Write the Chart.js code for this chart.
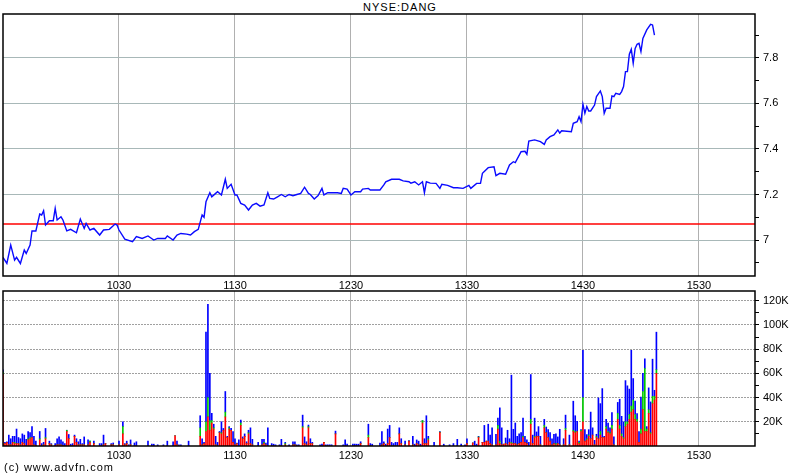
<!DOCTYPE html>
<html><head><meta charset="utf-8">
<script src="https://cdn.jsdelivr.net/npm/chart.js@4.4.1/dist/chart.umd.min.js"></script>
<style>
body{margin:0;background:#fff;width:800px;height:475px;overflow:hidden;position:relative;font-family:"Liberation Sans",Arial,sans-serif;color:#000;}
#title{position:absolute;top:1px;left:0;width:800px;text-align:center;font-size:11px;letter-spacing:1px;}
#copy{position:absolute;left:4px;top:461px;font-size:11px;letter-spacing:1px;}
#c1{position:absolute;left:0;top:0;}
#c2{position:absolute;left:0;top:286px;}
</style></head>
<body>
<div id="title">NYSE:DANG</div>
<canvas id="c1" width="800" height="292"></canvas>
<canvas id="c2" width="800" height="189"></canvas>
<div id="copy">(c) www.advfn.com</div>
<script>
// ---- data ----
const timeTickLabels = ["1030","1130","1230","1330","1430","1530"];
const priceTicks = [6.9,7.0,7.1,7.2,7.3,7.4,7.5,7.6,7.7,7.8,7.9];
const volTicks = [10,20,30,40,50,60,70,80,90,100,110,120]; // thousands
const prevClose = 7.07;
// minutes after 09:30
const priceMinutes = [0,2,4,6,7,9,11,12,14,15,17,19,20,21,22,24,26,27,28,30,31,33,35,38,40,42,43,45,47,50,52,55,58,59,60,63,67,69,72,75,78,80,84,85,88,90,92,95,97,99,101,103,104,105,107,108,110,111,113,115,116,118,120,121,123,125,127,129,131,133,135,137,138,140,142,144,146,148,150,152,154,156,158,159,161,163,165,166,168,173,175,176,178,180,182,185,186,189,190,192,195,197,198,201,205,207,210,211,213,215,217,218,219,221,224,226,227,230,233,235,238,241,242,245,247,248,251,254,255,257,260,262,264,265,268,270,271,272,275,278,280,281,283,285,287,288,289,294,295,297,298,299,300,301,302,303,304,306,307,309,310,311,312,314,315,316,317,319,320,321,322,323,324,325,326,327,328,329,330,331,333,335,336,337];
const prices = [6.924,6.897,6.978,6.912,6.924,6.897,6.956,6.941,6.978,7.04,7.04,7.114,7.11,7.129,7.066,7.085,7.085,7.139,7.088,7.102,7.088,7.04,7.047,7.032,7.092,7.051,7.073,7.044,7.051,7.022,7.044,7.047,7.07,7.066,7.044,7.004,6.993,7.015,7.007,7.018,7.0,7.007,7.007,7.018,7.0,7.022,7.029,7.026,7.022,7.037,7.047,7.11,7.10,7.168,7.208,7.19,7.205,7.212,7.198,7.267,7.227,7.245,7.198,7.198,7.161,7.154,7.132,7.154,7.161,7.149,7.154,7.208,7.183,7.18,7.19,7.2,7.19,7.2,7.195,7.2,7.205,7.232,7.205,7.2,7.18,7.195,7.227,7.198,7.208,7.208,7.205,7.227,7.224,7.198,7.212,7.212,7.224,7.227,7.22,7.22,7.22,7.242,7.256,7.267,7.267,7.26,7.256,7.25,7.256,7.242,7.256,7.208,7.256,7.25,7.249,7.227,7.245,7.24,7.23,7.23,7.227,7.24,7.227,7.249,7.249,7.293,7.318,7.322,7.283,7.293,7.289,7.33,7.344,7.34,7.388,7.39,7.377,7.435,7.44,7.432,7.42,7.44,7.454,7.462,7.484,7.47,7.48,7.476,7.513,7.52,7.542,7.52,7.596,7.557,7.586,7.567,7.567,7.593,7.63,7.655,7.63,7.557,7.579,7.579,7.633,7.63,7.645,7.64,7.652,7.674,7.74,7.74,7.816,7.838,7.777,7.842,7.86,7.864,7.828,7.886,7.923,7.948,7.945,7.90];
// volume per minute (thousands of shares), stacked red / green / blue parts
const volMinutes = [
  0,1,2,3,4,5,6,7,8,9,10,11,12,13,14,15,16,17,
  19,20,21,22,24,25,
  27,28,29,30,31,32,33,34,35,36,37,38,39,40,41,42,
  44,45,47,50,51,52,53,56,57,60,
  62,63,64,65,66,68,69,75,77,78,80,83,85,
  88,89,90,91,92,96,
  102,103,104,105,106,107,108,109,110,111,112,113,114,115,
  116,117,118,119,120,121,122,123,124,125,126,127,128,129,
  132,134,135,136,137,139,140,141,143,144,146,148,
  150,151,152,153,155,156,157,158,159,160,
  164,165,166,167,168,169,170,172,176,177,178,
  181,182,183,184,185,189,190,191,
  195,196,197,198,199,200,201,202,203,204,205,206,
  208,210,212,213,214,215,216,217,218,219,220,223,
  226,228,231,233,235,237,239,240,243,244,245,246,
  248,249,250,251,252,253,255,256,257,258,259,260,261,262,
  263,264,265,266,267,268,269,270,271,272,273,274,275,276,277,278,
  280,281,282,283,284,285,286,287,288,290,291,293,
  295,296,297,298,299,300,301,302,303,304,305,306,307,308,309,310,311,312,313,314,315,316,
  318,319,320,321,322,323,324,325,326,327,328,329,330,331,332,333,334,335,336,337,338];
const volRed = [
  59,2,3,1,1,3,2,2,2,1,3,2,0.5,5,6,7,1,0.5,
  5,0,1,6,2,1,
  0.5,1,1,1,0.5,0,12,6,0,0.5,8,3,1,1,1,1,
  1,3,2,0,0,1,2,1,1,1,
  10,1,2,0,1,0,0,0,0,0,0,0,0,
  0,8.5,1,0,0,0,
  8,1,2,12,24,13,19,14,1,0,11,10,13,24,
  7,14,13,3,1,2,0,17,6,8,2,10,2,1,
  0,1,2,1,0,0,0,0,0,0,1,0,
  1,1,0,0,15,2,1,15,2,2,
  0,0,3,0,0,0,0,10,0,0,0,
  0,0,0,0,2,7,0,0,
  0,1,2,0,2,7,0,0,0,0,10,2,
  1,4,1,0,2,1,0,19,2,2,5,0,
  11,0,0,0,0,0,0,2,2.5,0,0,7,
  3,3,4,4,2,1,1,14,2,1,1.5,2,1,3,
  2,2,2,1,2,3,7,3,2,0,18,2,7,8,8,1,
  15,11,7,4,1,2,1,2,1,1,13,1,
  12,11,12,2,12,20,4,5,8,6,9,1,7,6,9,7,7,14,11,10,14,1,
  22,14,8,6,16,18,22,28,30,22,20,3,10,30,12,12,27,10,35,38,60];
const volGreen = [
  2,0,0,0,0,0,1,0,0,0,0,0,0,1,1,0,0,0,
  1,0,0,1,0,0,
  0,0,0,0,0,0,1,0,0,0,0,0,0,0,0,0,
  0,1,0,0,0,0,0,0,0,0,
  6,0,0,0,0,0,0,0,0,0,0,0,0,
  0,0,0,0,0,0,
  7,0,0,8,16,8,2,1,0,0,0,1,0,4,
  0,1,0,0,0,0,0,2,0,0,0,1,0,0,
  0,0,1,0,0,0,0,0,0,0,1,0,
  0,0,0,0,1,0,0,1,0,0,
  0,0,0,0,0,0,0,0,0,0,0,
  0,0,0,0,0,2,0,0,
  0,0,0,0,0,0,0,0,0,0,0,0,
  0,0,0,0,0,0,0,2,0,0,1,0,
  0.5,0,0,0,0,0,0,0,0,0,0,0.5,
  0,0,0,0,0,0,0,3,2,0,0,0,0,0,
  1,0,0,0,0,0,1,0,0,0,4,0,1,0,0,0,
  2,0,0,0,0,0,1,0,0,0,1.5,0,
  1,1,0,1,1,20,0,1,1,0,0,0,1,0,3,0,0,2,1,1,3,0,
  5,3,2,1,4,2,4,5,8,4,2,0,4,15,52,2,3,1,6,3,3];
const volBlue = [
  2,1,0.5,8,5,5,5,12,5,5,7,7,5,6,4,9,7,3.5,
  6,2,2,7.5,2,1,
  1.5,5,6.5,4,3,2,0,3.5,1.5,1.5,1,3,2.5,4.5,1,6.5,
  4,0,2,2,2,8,0,1,1.5,3,
  4,1,2,1,4,2.5,3.5,4,1.5,1.5,1,1,4,
  3.5,0,3,1,1,4,
  10,5,1,74,77,39,6,3,7,3,1,9,1.5,17,
  1,1,1.5,9,5,0.5,5,2.4,1.5,2,1.5,2,13,4.5,
  3,4.5,2.5,1.5,15,2,1.5,1,1,5.5,1,1,
  2.5,2.5,1,1,9.5,5.5,2.5,1.3,4,1,
  1,1.5,0,1,1,1,1,2.3,1,5,1.5,
  1.5,1.5,1.5,1.5,1.5,9,2,1.5,
  2.5,11,1.5,1.5,12,10,3,2,3,3,5,4,
  3,0.5,7,1.5,3,3,1.5,0,4,23,2,3,
  0.5,1.5,1,2,5.5,1.5,1,4,0,4,1.5,0.5,
  0,14,0,14,7,14,8.7,6,27.5,14,0,4.6,12,3,
  55.5,11.8,17,7,8,8,15,5,3,3,37,7,15,3.6,8,7,
  5,4.7,6.5,7,5,7.7,8,5.5,12.8,5,11,8,
  24,13,8.4,1,0.5,39,9.5,3.4,4.5,22,6,3.7,1.7,33.7,23,40.4,1,6,7,4,10.6,6.5,
  9,21.6,14.5,13,34,29.7,21,46,17.7,11,4.8,9,26.5,15,8,2,18,25.4,30.7,5,31];

// ---- helpers ----
const tickMinutes = timeTickLabels.map(s => (parseInt(s.slice(0, -2)) * 60 + parseInt(s.slice(-2))) - 570);
const FONT = {family: "'Liberation Sans', Arial, sans-serif", size: 11};
const X_MAX = 389;

const framePlugin = {
  id: 'frame',
  afterDraw(chart) {
    const {ctx, chartArea: a} = chart;
    ctx.save();
    ctx.strokeStyle = '#000';
    ctx.lineWidth = 1.5;
    ctx.strokeRect(a.left, a.top, a.right - a.left, a.bottom - a.top);
    ctx.restore();
  }
};

function xAxis(h) {
  return {
    type: 'linear', min: 0, max: X_MAX, offset: false,
    afterBuildTicks: ax => { ax.ticks = tickMinutes.map(v => ({value: v})); },
    afterFit: sc => { sc.height = h; sc.paddingLeft = 0; sc.paddingRight = 0; },
    ticks: {autoSkip: false, maxRotation: 0, padding: 3, color: '#000', font: FONT,
      callback: v => timeTickLabels[tickMinutes.indexOf(v)] ?? ''},
    grid: {color: '#b0b0b0', drawTicks: false, lineWidth: 1, offset: false},
    border: {display: false}
  };
}

// ---- price chart ----
new Chart(document.getElementById('c1'), {
  type: 'line',
  data: {
    datasets: [
      {data: priceMinutes.map((t, i) => ({x: t, y: prices[i]})), borderColor: '#0a0aff', borderWidth: 1.4, pointRadius: 0, tension: 0},
      {data: [{x: 0, y: prevClose}, {x: X_MAX, y: prevClose}], borderColor: '#ff0000', borderWidth: 1.5, pointRadius: 0}
    ]
  },
  options: {
    responsive: false, animation: false,
    layout: {padding: {left: 3, top: 14, right: 0, bottom: 0}},
    plugins: {legend: {display: false}, tooltip: {enabled: false}},
    scales: {
      x: xAxis(16),
      y: {
        type: 'linear', position: 'right', min: 6.842, max: 7.993,
        afterBuildTicks: ax => { ax.ticks = priceTicks.map(v => ({value: v})); },
        afterFit: sc => { sc.width = 45; sc.paddingTop = 0; sc.paddingBottom = 0; },
        ticks: {autoSkip: false, padding: 4, color: '#000', font: FONT,
          callback: v => (Math.abs(v * 5 - Math.round(v * 5)) < 1e-6) ? String(+v.toFixed(1)) : ''},
        grid: {
          color: c => (Math.abs(c.tick.value * 5 - Math.round(c.tick.value * 5)) < 1e-6) ? '#a8b8b8' : 'rgba(0,0,0,0)',
          tickColor: '#000', tickLength: 4, drawTicks: true
        },
        border: {display: false}
      }
    }
  },
  plugins: [framePlugin]
});

// ---- volume chart ----
const mk = (arr, col) => ({
  type: 'bar', data: volMinutes.map((t, i) => ({x: t, y: arr[i]})),
  backgroundColor: col, barThickness: 1, borderWidth: 0, stack: 'v'
});
const xa2 = xAxis(14);
xa2.stacked = true;
new Chart(document.getElementById('c2'), {
  type: 'bar',
  data: {datasets: [mk(volRed, '#ff0000'), mk(volGreen, '#00c800'), mk(volBlue, '#0000ff')]},
  options: {
    responsive: false, animation: false,
    layout: {padding: {left: 3, top: 5, right: 0, bottom: 15}},
    plugins: {legend: {display: false}, tooltip: {enabled: false}},
    scales: {
      x: xa2,
      y: {
        type: 'linear', position: 'right', stacked: true, min: 0, max: 128,
        afterBuildTicks: ax => { ax.ticks = volTicks.map(v => ({value: v})); },
        afterFit: sc => { sc.width = 45; sc.paddingTop = 0; sc.paddingBottom = 0; },
        ticks: {autoSkip: false, padding: 4, color: '#000', font: FONT,
          callback: v => (v % 20 === 0) ? v + 'K' : ''},
        grid: {
          color: c => (c.tick.value % 20 === 0) ? '#a0a0a0' : 'rgba(0,0,0,0)',
          tickColor: '#000', tickLength: 4, drawTicks: true
        },
        border: {display: false, dash: [2, 1]}
      }
    }
  },
  plugins: [framePlugin]
});
</script>
</body></html>
